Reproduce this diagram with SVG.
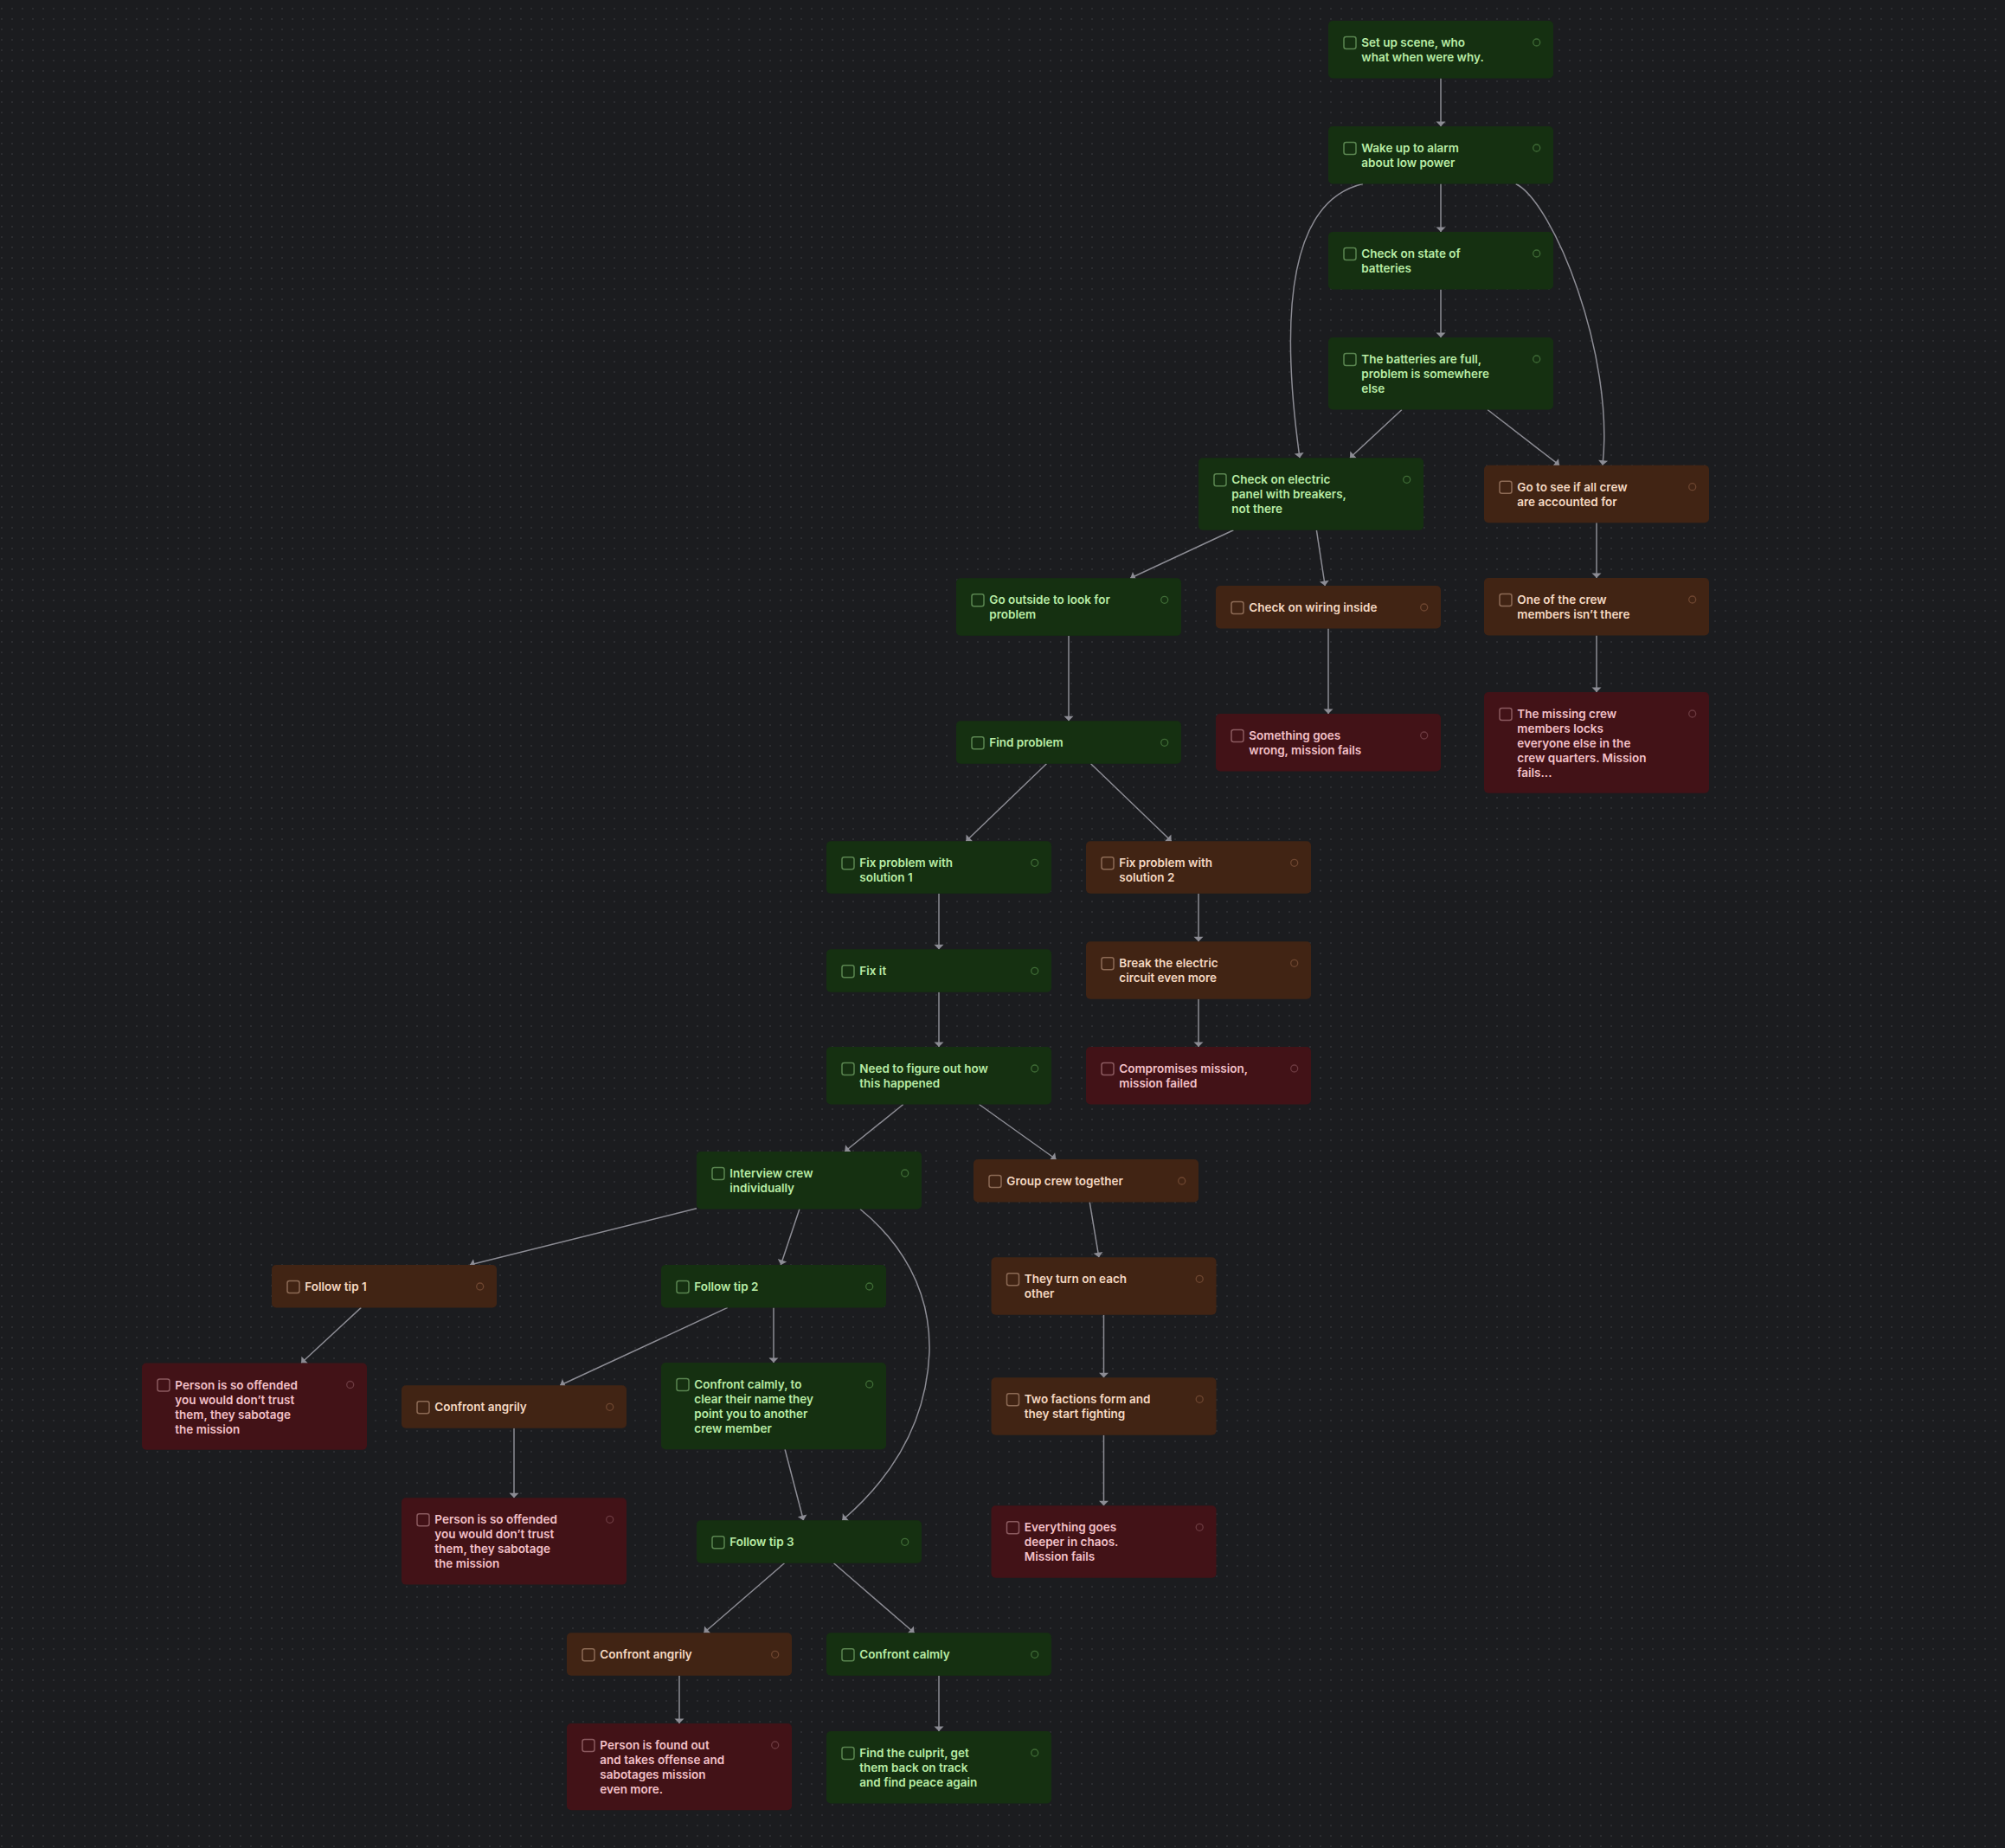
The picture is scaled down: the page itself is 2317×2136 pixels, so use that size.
<svg xmlns="http://www.w3.org/2000/svg" width="2317" height="2136" viewBox="0 0 2317 2136">
<style>
.t{font-family:"Inter","Liberation Sans",sans-serif;font-size:13.5px;font-weight:600}
.box{stroke:none}
.cb{fill:none;stroke-width:1.5}
.dot{fill:none;stroke-width:1.3}
.g .box{fill:#153011}.g .cb{stroke:#5a8550}.g .dot{stroke:#3f6b36}.g .t{fill:#b9ecA6}
.b .box{fill:#412414}.b .cb{stroke:#8c6a55}.b .dot{stroke:#6e4630}.b .t{fill:#f5d9c3}
.r .box{fill:#421217}.r .cb{stroke:#8a5a5f}.r .dot{stroke:#6b3a40}.r .t{fill:#f3c1c9}
.e{fill:none;stroke:#8c8c94;stroke-width:1.5;marker-end:url(#arr)}
</style>
<defs>
<pattern id="grid" x="0" y="0" width="12" height="12" patternUnits="userSpaceOnUse">
<rect x="1" y="9" width="2" height="2" fill="#2b2c30"/>
</pattern>
<marker id="arr" viewBox="-6 -6 7 12" refX="0" refY="0" markerWidth="7" markerHeight="12" markerUnits="userSpaceOnUse" orient="auto">
<path d="M-5.5,-5.5 L0,0 L-5.5,5.5 Z" fill="#8c8c94"/>
</marker>
</defs>
<rect width="2317" height="2136" fill="#1b1c1f"/>
<rect width="2317" height="2136" fill="url(#grid)"/>

<g id="edges">
<path class="e" d="M1665,90.5 V146"/>
<path class="e" d="M1665,212.5 V268"/>
<path class="e" d="M1665,334.5 V390"/>
<path class="e" d="M1575,212.5 C1500,230 1475,335 1502,529.3"/>
<path class="e" d="M1751.7,212.5 C1795,234 1866,410 1852,537.7"/>
<path class="e" d="M1620,473.5 L1560,529.3"/>
<path class="e" d="M1719,473.5 L1802,537.7"/>
<path class="e" d="M1425.4,612.8 L1306.3,668.3"/>
<path class="e" d="M1521.4,612.8 L1531.2,677"/>
<path class="e" d="M1845,604.2 V668"/>
<path class="e" d="M1235,734.8 V833.3"/>
<path class="e" d="M1535,726.4 V825"/>
<path class="e" d="M1845,734.5 V800"/>
<path class="e" d="M1209.4,882.7 L1116.4,972.3"/>
<path class="e" d="M1260.6,882.7 L1353.6,972.3"/>
<path class="e" d="M1085,1032.8 V1097.3"/>
<path class="e" d="M1385,1032.8 V1088.3"/>
<path class="e" d="M1085,1146.7 V1210"/>
<path class="e" d="M1385,1154.8 V1210"/>
<path class="e" d="M1043.8,1276.5 L976.2,1331"/>
<path class="e" d="M1131.5,1276.5 L1220.4,1340"/>
<path class="e" d="M805,1396.7 L543,1462"/>
<path class="e" d="M923.9,1397.5 L902.3,1462"/>
<path class="e" d="M994,1397.5 C1040,1435 1076,1490 1074,1563 C1071,1635 1040,1700 973.3,1757.3"/>
<path class="e" d="M1259.2,1389.4 L1269.9,1453.3"/>
<path class="e" d="M417.3,1511.4 L348.1,1575.5"/>
<path class="e" d="M840.8,1511.4 L647.2,1601.3"/>
<path class="e" d="M894,1511.4 V1575"/>
<path class="e" d="M1275.5,1519.8 V1592.3"/>
<path class="e" d="M907.1,1675.3 L928.5,1757.3"/>
<path class="e" d="M594,1650.7 V1731.3"/>
<path class="e" d="M1275.5,1658.8 V1740.3"/>
<path class="e" d="M906.5,1806.7 L813.5,1887.3"/>
<path class="e" d="M963.5,1806.7 L1056.5,1887.3"/>
<path class="e" d="M785,1936.7 V1992"/>
<path class="e" d="M1085,1936.7 V2001"/>
</g>

<g id="n1" class="g" transform="translate(1535,24)"><rect class="box" width="260" height="66.5" rx="5"/><rect class="cb" x="18" y="18.5" width="14" height="14" rx="2.5"/><circle class="dot" cx="240.7" cy="25" r="4"/><text class="t" y="30"><tspan x="38.3">Set up scene, who</tspan><tspan x="38.3" dy="17">what when were why.</tspan></text></g>
<g id="n2" class="g" transform="translate(1535,146)"><rect class="box" width="260" height="66.5" rx="5"/><rect class="cb" x="18" y="18.5" width="14" height="14" rx="2.5"/><circle class="dot" cx="240.7" cy="25" r="4"/><text class="t" y="30"><tspan x="38.3">Wake up to alarm</tspan><tspan x="38.3" dy="17">about low power</tspan></text></g>
<g id="n3" class="g" transform="translate(1535,268)"><rect class="box" width="260" height="66.5" rx="5"/><rect class="cb" x="18" y="18.5" width="14" height="14" rx="2.5"/><circle class="dot" cx="240.7" cy="25" r="4"/><text class="t" y="30"><tspan x="38.3">Check on state of</tspan><tspan x="38.3" dy="17">batteries</tspan></text></g>
<g id="n4" class="g" transform="translate(1535,390)"><rect class="box" width="260" height="83.5" rx="5"/><rect class="cb" x="18" y="18.5" width="14" height="14" rx="2.5"/><circle class="dot" cx="240.7" cy="25" r="4"/><text class="t" y="30"><tspan x="38.3">The batteries are full,</tspan><tspan x="38.3" dy="17">problem is somewhere</tspan><tspan x="38.3" dy="17">else</tspan></text></g>
<g id="n5" class="g" transform="translate(1385,529.3)"><rect class="box" width="260" height="83.5" rx="5"/><rect class="cb" x="18" y="18.5" width="14" height="14" rx="2.5"/><circle class="dot" cx="240.7" cy="25" r="4"/><text class="t" y="30"><tspan x="38.3">Check on electric</tspan><tspan x="38.3" dy="17">panel with breakers,</tspan><tspan x="38.3" dy="17">not there</tspan></text></g>
<g id="n6" class="b" transform="translate(1715,537.7)"><rect class="box" width="260" height="66.5" rx="5"/><rect class="cb" x="18" y="18.5" width="14" height="14" rx="2.5"/><circle class="dot" cx="240.7" cy="25" r="4"/><text class="t" y="30"><tspan x="38.3">Go to see if all crew</tspan><tspan x="38.3" dy="17">are accounted for</tspan></text></g>
<g id="n7" class="g" transform="translate(1105,668.3)"><rect class="box" width="260" height="66.5" rx="5"/><rect class="cb" x="18" y="18.5" width="14" height="14" rx="2.5"/><circle class="dot" cx="240.7" cy="25" r="4"/><text class="t" y="30"><tspan x="38.3">Go outside to look for</tspan><tspan x="38.3" dy="17">problem</tspan></text></g>
<g id="n8" class="b" transform="translate(1405,677)"><rect class="box" width="260" height="49.4" rx="5"/><rect class="cb" x="18" y="18.5" width="14" height="14" rx="2.5"/><circle class="dot" cx="240.7" cy="25" r="4"/><text class="t" y="30"><tspan x="38.3">Check on wiring inside</tspan></text></g>
<g id="n9" class="b" transform="translate(1715,668)"><rect class="box" width="260" height="66.5" rx="5"/><rect class="cb" x="18" y="18.5" width="14" height="14" rx="2.5"/><circle class="dot" cx="240.7" cy="25" r="4"/><text class="t" y="30"><tspan x="38.3">One of the crew</tspan><tspan x="38.3" dy="17">members isn’t there</tspan></text></g>
<g id="n10" class="g" transform="translate(1105,833.3)"><rect class="box" width="260" height="49.4" rx="5"/><rect class="cb" x="18" y="18.5" width="14" height="14" rx="2.5"/><circle class="dot" cx="240.7" cy="25" r="4"/><text class="t" y="30"><tspan x="38.3">Find problem</tspan></text></g>
<g id="n11" class="r" transform="translate(1405,825)"><rect class="box" width="260" height="66.5" rx="5"/><rect class="cb" x="18" y="18.5" width="14" height="14" rx="2.5"/><circle class="dot" cx="240.7" cy="25" r="4"/><text class="t" y="30"><tspan x="38.3">Something goes</tspan><tspan x="38.3" dy="17">wrong, mission fails</tspan></text></g>
<g id="n12" class="r" transform="translate(1715,800)"><rect class="box" width="260" height="116.7" rx="5"/><rect class="cb" x="18" y="18.5" width="14" height="14" rx="2.5"/><circle class="dot" cx="240.7" cy="25" r="4"/><text class="t" y="30"><tspan x="38.3">The missing crew</tspan><tspan x="38.3" dy="17">members locks</tspan><tspan x="38.3" dy="17">everyone else in the</tspan><tspan x="38.3" dy="17">crew quarters. Mission</tspan><tspan x="38.3" dy="17">fails...</tspan></text></g>
<g id="n13" class="g" transform="translate(955,972.3)"><rect class="box" width="260" height="60.5" rx="5"/><rect class="cb" x="18" y="18.5" width="14" height="14" rx="2.5"/><circle class="dot" cx="240.7" cy="25" r="4"/><text class="t" y="30"><tspan x="38.3">Fix problem with</tspan><tspan x="38.3" dy="17">solution 1</tspan></text></g>
<g id="n14" class="b" transform="translate(1255,972.3)"><rect class="box" width="260" height="60.5" rx="5"/><rect class="cb" x="18" y="18.5" width="14" height="14" rx="2.5"/><circle class="dot" cx="240.7" cy="25" r="4"/><text class="t" y="30"><tspan x="38.3">Fix problem with</tspan><tspan x="38.3" dy="17">solution 2</tspan></text></g>
<g id="n15" class="g" transform="translate(955,1097.3)"><rect class="box" width="260" height="49.4" rx="5"/><rect class="cb" x="18" y="18.5" width="14" height="14" rx="2.5"/><circle class="dot" cx="240.7" cy="25" r="4"/><text class="t" y="30"><tspan x="38.3">Fix it</tspan></text></g>
<g id="n16" class="b" transform="translate(1255,1088.3)"><rect class="box" width="260" height="66.5" rx="5"/><rect class="cb" x="18" y="18.5" width="14" height="14" rx="2.5"/><circle class="dot" cx="240.7" cy="25" r="4"/><text class="t" y="30"><tspan x="38.3">Break the electric</tspan><tspan x="38.3" dy="17">circuit even more</tspan></text></g>
<g id="n17" class="g" transform="translate(955,1210)"><rect class="box" width="260" height="66.5" rx="5"/><rect class="cb" x="18" y="18.5" width="14" height="14" rx="2.5"/><circle class="dot" cx="240.7" cy="25" r="4"/><text class="t" y="30"><tspan x="38.3">Need to figure out how</tspan><tspan x="38.3" dy="17">this happened</tspan></text></g>
<g id="n18" class="r" transform="translate(1255,1210)"><rect class="box" width="260" height="66.5" rx="5"/><rect class="cb" x="18" y="18.5" width="14" height="14" rx="2.5"/><circle class="dot" cx="240.7" cy="25" r="4"/><text class="t" y="30"><tspan x="38.3">Compromises mission,</tspan><tspan x="38.3" dy="17">mission failed</tspan></text></g>
<g id="n19" class="g" transform="translate(805,1331)"><rect class="box" width="260" height="66.5" rx="5"/><rect class="cb" x="18" y="18.5" width="14" height="14" rx="2.5"/><circle class="dot" cx="240.7" cy="25" r="4"/><text class="t" y="30"><tspan x="38.3">Interview crew</tspan><tspan x="38.3" dy="17">individually</tspan></text></g>
<g id="n20" class="b" transform="translate(1125,1340)"><rect class="box" width="260" height="49.4" rx="5"/><rect class="cb" x="18" y="18.5" width="14" height="14" rx="2.5"/><circle class="dot" cx="240.7" cy="25" r="4"/><text class="t" y="30"><tspan x="38.3">Group crew together</tspan></text></g>
<g id="n21" class="b" transform="translate(314,1462)"><rect class="box" width="260" height="49.4" rx="5"/><rect class="cb" x="18" y="18.5" width="14" height="14" rx="2.5"/><circle class="dot" cx="240.7" cy="25" r="4"/><text class="t" y="30"><tspan x="38.3">Follow tip 1</tspan></text></g>
<g id="n22" class="g" transform="translate(764,1462)"><rect class="box" width="260" height="49.4" rx="5"/><rect class="cb" x="18" y="18.5" width="14" height="14" rx="2.5"/><circle class="dot" cx="240.7" cy="25" r="4"/><text class="t" y="30"><tspan x="38.3">Follow tip 2</tspan></text></g>
<g id="n23" class="b" transform="translate(1145.5,1453.3)"><rect class="box" width="260" height="66.5" rx="5"/><rect class="cb" x="18" y="18.5" width="14" height="14" rx="2.5"/><circle class="dot" cx="240.7" cy="25" r="4"/><text class="t" y="30"><tspan x="38.3">They turn on each</tspan><tspan x="38.3" dy="17">other</tspan></text></g>
<g id="n24" class="r" transform="translate(164,1575.5)"><rect class="box" width="260" height="100.3" rx="5"/><rect class="cb" x="18" y="18.5" width="14" height="14" rx="2.5"/><circle class="dot" cx="240.7" cy="25" r="4"/><text class="t" y="30"><tspan x="38.3">Person is so offended</tspan><tspan x="38.3" dy="17">you would don’t trust</tspan><tspan x="38.3" dy="17">them, they sabotage</tspan><tspan x="38.3" dy="17">the mission</tspan></text></g>
<g id="n25" class="b" transform="translate(464,1601.3)"><rect class="box" width="260" height="49.4" rx="5"/><rect class="cb" x="18" y="18.5" width="14" height="14" rx="2.5"/><circle class="dot" cx="240.7" cy="25" r="4"/><text class="t" y="30"><tspan x="38.3">Confront angrily</tspan></text></g>
<g id="n26" class="g" transform="translate(764,1575)"><rect class="box" width="260" height="100.3" rx="5"/><rect class="cb" x="18" y="18.5" width="14" height="14" rx="2.5"/><circle class="dot" cx="240.7" cy="25" r="4"/><text class="t" y="30"><tspan x="38.3">Confront calmly, to</tspan><tspan x="38.3" dy="17">clear their name they</tspan><tspan x="38.3" dy="17">point you to another</tspan><tspan x="38.3" dy="17">crew member</tspan></text></g>
<g id="n27" class="b" transform="translate(1145.5,1592.3)"><rect class="box" width="260" height="66.5" rx="5"/><rect class="cb" x="18" y="18.5" width="14" height="14" rx="2.5"/><circle class="dot" cx="240.7" cy="25" r="4"/><text class="t" y="30"><tspan x="38.3">Two factions form and</tspan><tspan x="38.3" dy="17">they start fighting</tspan></text></g>
<g id="n28" class="r" transform="translate(464,1731.3)"><rect class="box" width="260" height="100.3" rx="5"/><rect class="cb" x="18" y="18.5" width="14" height="14" rx="2.5"/><circle class="dot" cx="240.7" cy="25" r="4"/><text class="t" y="30"><tspan x="38.3">Person is so offended</tspan><tspan x="38.3" dy="17">you would don’t trust</tspan><tspan x="38.3" dy="17">them, they sabotage</tspan><tspan x="38.3" dy="17">the mission</tspan></text></g>
<g id="n29" class="g" transform="translate(805,1757.3)"><rect class="box" width="260" height="49.4" rx="5"/><rect class="cb" x="18" y="18.5" width="14" height="14" rx="2.5"/><circle class="dot" cx="240.7" cy="25" r="4"/><text class="t" y="30"><tspan x="38.3">Follow tip 3</tspan></text></g>
<g id="n30" class="r" transform="translate(1145.5,1740.3)"><rect class="box" width="260" height="83.5" rx="5"/><rect class="cb" x="18" y="18.5" width="14" height="14" rx="2.5"/><circle class="dot" cx="240.7" cy="25" r="4"/><text class="t" y="30"><tspan x="38.3">Everything goes</tspan><tspan x="38.3" dy="17">deeper in chaos.</tspan><tspan x="38.3" dy="17">Mission fails</tspan></text></g>
<g id="n31" class="b" transform="translate(655,1887.3)"><rect class="box" width="260" height="49.4" rx="5"/><rect class="cb" x="18" y="18.5" width="14" height="14" rx="2.5"/><circle class="dot" cx="240.7" cy="25" r="4"/><text class="t" y="30"><tspan x="38.3">Confront angrily</tspan></text></g>
<g id="n32" class="g" transform="translate(955,1887.3)"><rect class="box" width="260" height="49.4" rx="5"/><rect class="cb" x="18" y="18.5" width="14" height="14" rx="2.5"/><circle class="dot" cx="240.7" cy="25" r="4"/><text class="t" y="30"><tspan x="38.3">Confront calmly</tspan></text></g>
<g id="n33" class="r" transform="translate(655,1992)"><rect class="box" width="260" height="100.3" rx="5"/><rect class="cb" x="18" y="18.5" width="14" height="14" rx="2.5"/><circle class="dot" cx="240.7" cy="25" r="4"/><text class="t" y="30"><tspan x="38.3">Person is found out</tspan><tspan x="38.3" dy="17">and takes offense and</tspan><tspan x="38.3" dy="17">sabotages mission</tspan><tspan x="38.3" dy="17">even more.</tspan></text></g>
<g id="n34" class="g" transform="translate(955,2001)"><rect class="box" width="260" height="83.5" rx="5"/><rect class="cb" x="18" y="18.5" width="14" height="14" rx="2.5"/><circle class="dot" cx="240.7" cy="25" r="4"/><text class="t" y="30"><tspan x="38.3">Find the culprit, get</tspan><tspan x="38.3" dy="17">them back on track</tspan><tspan x="38.3" dy="17">and find peace again</tspan></text></g>
</svg>
